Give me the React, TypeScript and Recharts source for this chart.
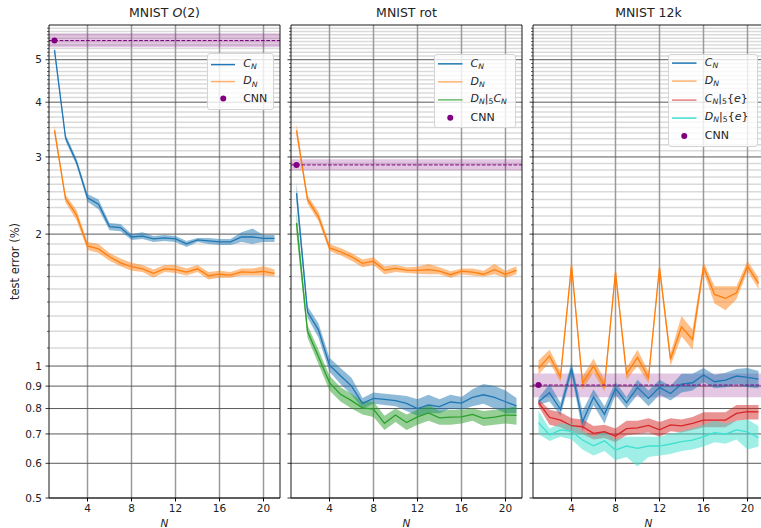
import React from 'react';
import {
  ComposedChart, Line, Area, XAxis, YAxis, ReferenceLine, ReferenceArea, ReferenceDot, Legend,
} from 'recharts';

const FONT = '"DejaVu Sans", Verdana, sans-serif';

const N_VALUES = [1, 2, 3, 4, 5, 6, 7, 8, 9, 10, 11, 12, 13, 14, 15, 16, 17, 18, 19, 20, 21];
const X_TICKS = [4, 8, 12, 16, 20];
const X_DOMAIN = [0.5, 21.5];
const Y_DOMAIN = [0.5, 6];
const Y_MAJOR = [0.5, 0.6, 0.7, 0.8, 0.9, 1, 2, 3, 4, 5];
const Y_MINOR = [
  1.1, 1.2, 1.3, 1.4, 1.5, 1.6, 1.7, 1.8, 1.9,
  2.1, 2.2, 2.3, 2.4, 2.5, 2.6, 2.7, 2.8, 2.9,
  3.1, 3.2, 3.3, 3.4, 3.5, 3.6, 3.7, 3.8, 3.9,
  4.1, 4.2, 4.3, 4.4, 4.5, 4.6, 4.7, 4.8, 4.9,
  5.1, 5.2, 5.3, 5.4, 5.5, 5.6, 5.7, 5.8, 5.9,
];

// ---- MNIST O(2) ----
const O2_CN = [5.26, 3.32, 2.92, 2.42, 2.34, 2.08, 2.07, 1.97, 1.98, 1.95, 1.96, 1.95, 1.90, 1.94, 1.93, 1.92, 1.92, 1.97, 1.97, 1.955, 1.955];
const O2_CN_LO = [5.18, 3.26, 2.87, 2.37, 2.28, 2.04, 2.03, 1.94, 1.95, 1.92, 1.93, 1.92, 1.87, 1.92, 1.90, 1.89, 1.89, 1.92, 1.90, 1.92, 1.92];
const O2_CN_HI = [5.34, 3.38, 2.97, 2.47, 2.40, 2.12, 2.11, 2.00, 2.02, 1.98, 1.99, 1.98, 1.93, 1.96, 1.96, 1.95, 1.95, 2.02, 2.06, 1.99, 1.99];
const O2_DN = [3.45, 2.41, 2.21, 1.88, 1.85, 1.776, 1.72, 1.685, 1.667, 1.627, 1.667, 1.66, 1.638, 1.667, 1.607, 1.62, 1.613, 1.64, 1.636, 1.644, 1.627];
const O2_DN_LO = [3.38, 2.36, 2.15, 1.84, 1.81, 1.74, 1.69, 1.65, 1.64, 1.59, 1.64, 1.63, 1.61, 1.64, 1.575, 1.59, 1.59, 1.61, 1.61, 1.61, 1.60];
const O2_DN_HI = [3.55, 2.46, 2.27, 1.92, 1.90, 1.81, 1.76, 1.72, 1.70, 1.66, 1.70, 1.70, 1.67, 1.70, 1.64, 1.65, 1.64, 1.67, 1.67, 1.69, 1.66];
const O2_CNN = [5.53, 5.34, 5.745];

// ---- MNIST rot ----
const ROT_CN = [2.48, 1.33, 1.208, 1.005, 0.95, 0.90, 0.822, 0.844, 0.839, 0.834, 0.822, 0.80, 0.815, 0.808, 0.828, 0.823, 0.848, 0.86, 0.848, 0.829, 0.811];
const ROT_CN_LO = [2.36, 1.29, 1.16, 0.97, 0.91, 0.86, 0.80, 0.82, 0.815, 0.81, 0.79, 0.77, 0.78, 0.78, 0.80, 0.795, 0.81, 0.82, 0.80, 0.78, 0.78];
const ROT_CN_HI = [2.62, 1.37, 1.25, 1.045, 0.99, 0.94, 0.845, 0.87, 0.865, 0.86, 0.855, 0.84, 0.86, 0.84, 0.86, 0.85, 0.885, 0.91, 0.90, 0.88, 0.845];
const ROT_DN = [3.45, 2.40, 2.19, 1.86, 1.823, 1.776, 1.715, 1.735, 1.655, 1.67, 1.655, 1.653, 1.66, 1.647, 1.616, 1.647, 1.638, 1.62, 1.66, 1.62, 1.653];
const ROT_DN_LO = [3.36, 2.35, 2.14, 1.83, 1.79, 1.74, 1.68, 1.70, 1.62, 1.64, 1.63, 1.625, 1.62, 1.62, 1.59, 1.62, 1.61, 1.60, 1.62, 1.59, 1.62];
const ROT_DN_HI = [3.56, 2.45, 2.25, 1.90, 1.86, 1.81, 1.75, 1.77, 1.69, 1.70, 1.68, 1.685, 1.71, 1.68, 1.645, 1.67, 1.67, 1.65, 1.71, 1.65, 1.69];
const ROT_DC = [2.12, 1.20, 1.05, 0.916, 0.862, 0.834, 0.803, 0.798, 0.74, 0.773, 0.743, 0.766, 0.782, 0.762, 0.765, 0.766, 0.776, 0.76, 0.765, 0.773, 0.772];
const ROT_DC_LO = [2.00, 1.16, 1.01, 0.88, 0.83, 0.80, 0.775, 0.765, 0.715, 0.745, 0.715, 0.735, 0.75, 0.735, 0.735, 0.74, 0.75, 0.73, 0.735, 0.74, 0.735];
const ROT_DC_HI = [2.25, 1.24, 1.09, 0.95, 0.895, 0.865, 0.83, 0.83, 0.77, 0.80, 0.775, 0.795, 0.815, 0.79, 0.795, 0.795, 0.80, 0.79, 0.795, 0.80, 0.81];
const ROT_CNN = [2.877, 2.795, 2.965];

// ---- MNIST 12k ----
const K12_CN = [0.829, 0.869, 0.796, 0.988, 0.746, 0.849, 0.776, 0.889, 0.825, 0.894, 0.844, 0.894, 0.866, 0.91, 0.916, 0.954, 0.921, 0.929, 0.949, 0.942, 0.934];
const K12_CN_LO = [0.815, 0.83, 0.77, 0.955, 0.71, 0.815, 0.74, 0.86, 0.80, 0.86, 0.81, 0.86, 0.835, 0.87, 0.88, 0.92, 0.89, 0.895, 0.91, 0.895, 0.89];
const K12_CN_HI = [0.845, 0.91, 0.825, 1.02, 0.79, 0.885, 0.81, 0.92, 0.85, 0.93, 0.88, 0.93, 0.90, 0.96, 0.96, 0.99, 0.955, 0.965, 0.985, 0.99, 0.975];
const K12_DN = [0.988, 1.054, 0.945, 1.70, 0.913, 1.0, 0.90, 1.64, 0.96, 1.046, 0.94, 1.68, 1.036, 1.229, 1.15, 1.685, 1.457, 1.427, 1.47, 1.69, 1.544];
const K12_DN_LO = [0.955, 1.02, 0.92, 1.65, 0.885, 0.965, 0.875, 1.60, 0.93, 1.00, 0.915, 1.64, 1.00, 1.17, 1.09, 1.64, 1.39, 1.34, 1.42, 1.645, 1.50];
const K12_DN_HI = [1.03, 1.09, 0.975, 1.75, 0.945, 1.04, 0.93, 1.68, 0.99, 1.09, 0.97, 1.72, 1.07, 1.30, 1.21, 1.73, 1.52, 1.52, 1.52, 1.74, 1.59];
const K12_CE = [0.825, 0.764, 0.753, 0.731, 0.727, 0.702, 0.708, 0.692, 0.72, 0.723, 0.732, 0.715, 0.734, 0.73, 0.74, 0.753, 0.753, 0.753, 0.78, 0.787, 0.786];
const K12_CE_LO = [0.81, 0.735, 0.725, 0.705, 0.70, 0.68, 0.685, 0.67, 0.695, 0.70, 0.705, 0.69, 0.71, 0.705, 0.715, 0.725, 0.725, 0.725, 0.75, 0.755, 0.755];
const K12_CE_HI = [0.84, 0.795, 0.785, 0.76, 0.755, 0.73, 0.735, 0.72, 0.75, 0.75, 0.76, 0.745, 0.76, 0.755, 0.765, 0.785, 0.785, 0.785, 0.815, 0.815, 0.815];
const K12_DE = [0.743, 0.696, 0.715, 0.71, 0.678, 0.658, 0.675, 0.643, 0.657, 0.649, 0.657, 0.657, 0.664, 0.672, 0.678, 0.69, 0.705, 0.699, 0.715, 0.708, 0.686];
const K12_DE_LO = [0.70, 0.675, 0.69, 0.68, 0.645, 0.625, 0.64, 0.61, 0.62, 0.59, 0.62, 0.625, 0.63, 0.64, 0.645, 0.655, 0.67, 0.665, 0.68, 0.645, 0.655];
const K12_DE_HI = [0.79, 0.72, 0.74, 0.74, 0.71, 0.69, 0.71, 0.68, 0.69, 0.69, 0.69, 0.69, 0.70, 0.71, 0.72, 0.735, 0.75, 0.74, 0.75, 0.755, 0.73];
const K12_CNN = [0.905, 0.849, 0.962];

const BLUE = '#1f77b4';
const ORANGE = '#ff7f0e';
const GREEN = '#2ca02c';
const RED = '#d62728';
const TURQ = '#40e0d0';
const PURPLE = '#800080';

type SeriesDef = { key: string; color: string; v: number[]; lo: number[]; hi: number[] };
type LegendItem = { kind: 'line' | 'dot'; color: string; opacity?: number; label: React.ReactNode };

const Sub = ({ children }: { children: React.ReactNode }) => (
  <span style={{ fontSize: '0.7em', position: 'relative', top: '0.28em' }}>{children}</span>
);
const CN = () => (<><i>C</i><Sub><i>N</i></Sub></>);
const DN = () => (<><i>D</i><Sub><i>N</i></Sub></>);

const YTick = (props: any) => {
  const { x, y, payload, showLabel } = props;
  const v = payload.value;
  const major = Y_MAJOR.includes(v);
  const ax = x + 7;
  return (
    <g>
      <line x1={ax - (major ? 3.5 : 2)} x2={ax} y1={y} y2={y} stroke="#000" strokeWidth={major ? 0.8 : 0.6} />
      {major && showLabel ? (
        <text x={x} y={y} dy="0.36em" textAnchor="end" fontSize={10.5} fill="#222" fontFamily={FONT}>
          {String(v)}
        </text>
      ) : null}
    </g>
  );
};

function LegendBox({ items, width, height, firstCenter, rowH }: any) {
  return (
    <div
      style={{
        position: 'relative', width, height, boxSizing: 'border-box',
        border: '1px solid #d4d4d4', borderRadius: 3, background: 'rgba(255,255,255,0.8)',
        fontFamily: FONT, fontSize: 11, color: '#222',
      }}
    >
      {items.map((it: LegendItem, i: number) => (
        <div
          key={i}
          style={{
            position: 'absolute', left: 3, top: firstCenter - rowH / 2 + i * rowH - 1, height: rowH,
            display: 'flex', alignItems: 'center', whiteSpace: 'nowrap',
          }}
        >
          <svg width={24.5} height={rowH} style={{ display: 'block' }}>
            {it.kind === 'line' ? (
              <line x1={0} x2={24.5} y1={rowH / 2} y2={rowH / 2} stroke={it.color} strokeWidth={1.5} strokeOpacity={it.opacity ?? 1} />
            ) : (
              <circle cx={12.25} cy={rowH / 2} r={3} fill={it.color} />
            )}
          </svg>
          <span style={{ marginLeft: 8, lineHeight: `${rowH}px` }}>{it.label}</span>
        </div>
      ))}
    </div>
  );
}

type PanelProps = {
  left: number; width: number; marginLeft: number; yAxisWidth: number; showLabels: boolean;
  series: SeriesDef[]; cnn: number[]; title: React.ReactNode; legendItems: LegendItem[];
  legendBox: { left: number; top: number; width: number; height: number; firstCenter: number; rowH: number };
};

function Panel(p: PanelProps) {
  const data = N_VALUES.map((n, i) => {
    const row: any = { N: n };
    p.series.forEach((s) => {
      row[s.key] = s.v[i];
      row[s.key + 'Band'] = [s.lo[i], s.hi[i]];
    });
    return row;
  });
  const plotLeft = p.marginLeft + p.yAxisWidth;
  return (
    <div style={{ position: 'absolute', left: p.left, top: 0, width: p.width, height: 528 }}>
      <div
        style={{
          position: 'absolute', left: plotLeft, top: 6, width: 231, textAlign: 'center',
          fontFamily: FONT, fontSize: 12.5, lineHeight: '14px', color: '#222', zIndex: 2,
        }}
      >
        {p.title}
      </div>
      <ComposedChart width={p.width} height={528} data={data} margin={{ top: 25, right: 10, bottom: 0, left: p.marginLeft }}>
        <XAxis
          type="number" dataKey="N" domain={X_DOMAIN} ticks={X_TICKS} allowDataOverflow height={30}
          tickSize={3.5} tickMargin={3.5} axisLine={false} stroke="#000"
          tick={{ fontSize: 10.5, fill: '#222', fontFamily: FONT }}
          label={{ value: 'N', position: 'insideBottom', offset: 1.5, fontStyle: 'italic', fontSize: 10.5, fill: '#222', fontFamily: FONT }}
        />
        <YAxis
          type="number" scale="log" domain={Y_DOMAIN} allowDataOverflow ticks={[...Y_MAJOR, ...Y_MINOR]}
          interval={0} width={p.yAxisWidth} tickSize={3.5} tickMargin={3.5} axisLine={false} tickLine={false}
          tick={<YTick showLabel={p.showLabels} />}
          label={p.showLabels ? { value: 'test error (%)', angle: -90, position: 'center', dx: -14, fontSize: 11.5, fill: '#222', fontFamily: FONT } : undefined}
        />
        {Y_MINOR.map((v) => (
          <ReferenceLine key={'mi' + v} y={v} stroke="#dadada" strokeWidth={1.5} zIndex={-20} />
        ))}
        {X_TICKS.map((v) => (
          <ReferenceLine key={'x' + v} x={v} stroke="#9a9a9a" strokeWidth={1.5} zIndex={-15} />
        ))}
        {Y_MAJOR.map((v) => (
          <ReferenceLine key={'ma' + v} y={v} stroke="#5a5a5a" strokeWidth={1} zIndex={-10} />
        ))}
        <ReferenceArea y1={p.cnn[1]} y2={p.cnn[2]} fill={PURPLE} fillOpacity={0.22} stroke="none" ifOverflow="visible" zIndex={50} />
        {p.series.map((s) => (
          <Area
            key={s.key + 'b'} dataKey={s.key + 'Band'} type="linear" stroke="none" fill={s.color} fillOpacity={0.5}
            isAnimationActive={false} dot={false} activeDot={false} legendType="none"
          />
        ))}
        {p.series.map((s) => (
          <Line
            key={s.key} dataKey={s.key} type="linear" stroke={s.color} strokeWidth={1.3}
            dot={false} activeDot={false} isAnimationActive={false}
          />
        ))}
        <ReferenceLine y={p.cnn[0]} stroke={PURPLE} strokeDasharray="3.7 1.6" strokeWidth={1} zIndex={450} />
        <ReferenceArea x1={0.5} x2={21.5} y1={0.5} y2={6} fill="none" stroke="#000" strokeWidth={0.9} ifOverflow="visible" zIndex={500} />
        <ReferenceDot x={1} y={p.cnn[0]} r={3} fill={PURPLE} stroke="none" zIndex={600} />
        <Legend
          layout="horizontal" verticalAlign="middle" align="center"
          wrapperStyle={{ left: p.legendBox.left, top: p.legendBox.top, width: 'auto', height: 'auto' }}
          content={() => (
            <LegendBox
              items={p.legendItems} width={p.legendBox.width} height={p.legendBox.height}
              firstCenter={p.legendBox.firstCenter} rowH={p.legendBox.rowH}
            />
          )}
        />
      </ComposedChart>
    </div>
  );
}

const O2_SERIES: SeriesDef[] = [
  { key: 'cn', color: BLUE, v: O2_CN, lo: O2_CN_LO, hi: O2_CN_HI },
  { key: 'dn', color: ORANGE, v: O2_DN, lo: O2_DN_LO, hi: O2_DN_HI },
];
const ROT_SERIES: SeriesDef[] = [
  { key: 'cn', color: BLUE, v: ROT_CN, lo: ROT_CN_LO, hi: ROT_CN_HI },
  { key: 'dn', color: ORANGE, v: ROT_DN, lo: ROT_DN_LO, hi: ROT_DN_HI },
  { key: 'dc', color: GREEN, v: ROT_DC, lo: ROT_DC_LO, hi: ROT_DC_HI },
];
const K12_SERIES: SeriesDef[] = [
  { key: 'cn', color: BLUE, v: K12_CN, lo: K12_CN_LO, hi: K12_CN_HI },
  { key: 'dn', color: ORANGE, v: K12_DN, lo: K12_DN_LO, hi: K12_DN_HI },
  { key: 'ce', color: RED, v: K12_CE, lo: K12_CE_LO, hi: K12_CE_HI },
  { key: 'de', color: TURQ, v: K12_DE, lo: K12_DE_LO, hi: K12_DE_HI },
];

const LEG_O2: LegendItem[] = [
  { kind: 'line', color: BLUE, label: <CN /> },
  { kind: 'line', color: ORANGE, opacity: 0.6, label: <DN /> },
  { kind: 'dot', color: PURPLE, label: 'CNN' },
];
const LEG_ROT: LegendItem[] = [
  { kind: 'line', color: BLUE, label: <CN /> },
  { kind: 'line', color: ORANGE, opacity: 0.6, label: <DN /> },
  { kind: 'line', color: GREEN, opacity: 0.7, label: (<><DN />|<Sub>5</Sub><CN /></>) },
  { kind: 'dot', color: PURPLE, label: 'CNN' },
];
const LEG_K12: LegendItem[] = [
  { kind: 'line', color: BLUE, label: <CN /> },
  { kind: 'line', color: ORANGE, opacity: 0.6, label: <DN /> },
  { kind: 'line', color: RED, opacity: 0.6, label: (<><CN />|<Sub>5</Sub>{'{'}<i>e</i>{'}'}</>) },
  { kind: 'line', color: TURQ, label: (<><DN />|<Sub>5</Sub>{'{'}<i>e</i>{'}'}</>) },
  { kind: 'dot', color: PURPLE, label: 'CNN' },
];

export default function App() {
  return (
    <div style={{ position: 'absolute', left: 0, top: 0, width: 761, height: 528, overflow: 'hidden', background: '#fff' }}>
      <Panel
        left={0} width={290} marginLeft={9} yAxisWidth={40} showLabels
        series={O2_SERIES} cnn={O2_CNN} title={<>MNIST <i>O</i>(2)</>} legendItems={LEG_O2}
        legendBox={{ left: 206.7, top: 53.3, width: 67.3, height: 56.7, firstCenter: 11, rowH: 17.2 }}
      />
      <Panel
        left={281} width={251} marginLeft={0} yAxisWidth={10} showLabels={false}
        series={ROT_SERIES} cnn={ROT_CNN} title="MNIST rot" legendItems={LEG_ROT}
        legendBox={{ left: 153, top: 54, width: 81.7, height: 74.3, firstCenter: 10.3, rowH: 17.7 }}
      />
      <Panel
        left={523} width={251} marginLeft={0} yAxisWidth={10} showLabels={false}
        series={K12_SERIES} cnn={K12_CNN} title="MNIST 12k" legendItems={LEG_K12}
        legendBox={{ left: 145.3, top: 54, width: 89.7, height: 93, firstCenter: 9.3, rowH: 18.2 }}
      />
    </div>
  );
}
